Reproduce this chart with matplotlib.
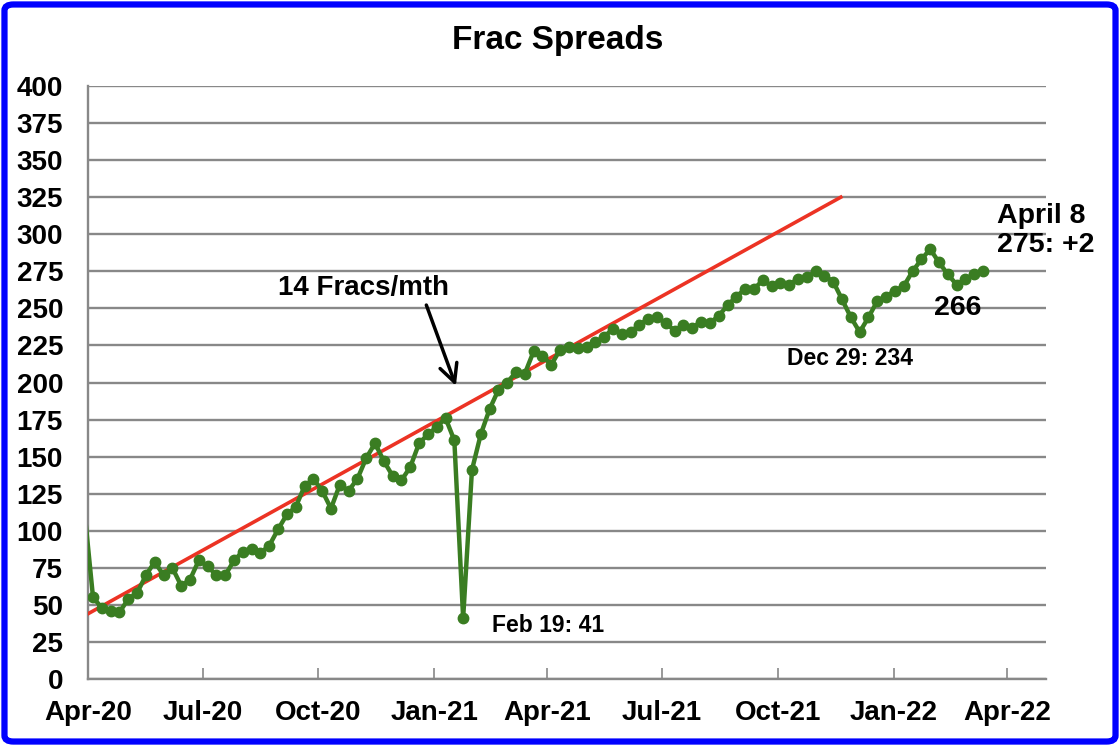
import numpy as np
import pandas as pd
import matplotlib
matplotlib.use('Agg')
import matplotlib.pyplot as plt
import matplotlib.dates as mdates
from matplotlib.patches import FancyBboxPatch

# weekly frac spread counts, as drawn (first point is clipped by the axis)
spreads = [115, 55, 48, 46, 45, 54, 58, 70, 79, 70,
           75, 63, 67, 80, 76, 70, 70, 80, 86, 88,
           85, 90, 101, 111, 116, 130, 135, 127, 115, 131,
           127, 135, 149, 159, 147, 137, 134, 143, 159, 165,
           170, 176, 161, 41, 141, 165, 182, 195, 200, 207,
           206, 221, 218, 212, 222, 224, 223, 224, 227, 231,
           236, 233, 234, 239, 243, 244, 240, 235, 239, 237,
           241, 240, 245, 252, 258, 263, 263, 269, 265, 267,
           266, 270, 271, 275, 272, 268, 256, 244, 234, 244,
           255, 258, 262, 265, 275, 283, 290, 281, 273, 266,
           270, 273, 275]
weeks = pd.date_range('2020-03-29', periods=len(spreads), freq='7D')

trend_dates = pd.to_datetime(['2020-04-01', '2021-11-20'])
trend_vals = [44, 325]

tick_dates = pd.date_range('2020-04-01', '2022-04-01', freq='3MS')
y_ticks = np.arange(0, 401, 25)

FONT = 'Liberation Sans'
plt.rcParams['font.family'] = [FONT, 'DejaVu Sans']
plt.rcParams['font.weight'] = 'bold'

fig = plt.figure(figsize=(11.2, 7.46), dpi=100)
ax = fig.add_axes([88 / 1120, 1 - 679 / 746, (1046 - 88) / 1120, (679 - 86) / 746])

ax.set_xlim(pd.Timestamp('2020-04-01'), pd.Timestamp('2022-05-02'))
ax.set_ylim(0, 400)
ax.set_yticks(y_ticks)
ax.set_xticks(tick_dates)
ax.xaxis.set_major_formatter(mdates.DateFormatter('%b-%y'))

ax.grid(True, axis='y', color='#888888', lw=1.7)
ax.set_axisbelow(True)
for s in ['top', 'right']:
    ax.spines[s].set_visible(False)
for s in ['left', 'bottom']:
    ax.spines[s].set_color('#888888')
    ax.spines[s].set_linewidth(1.7)

ax.tick_params(axis='y', length=0, pad=18, labelsize=20)
ax.tick_params(axis='x', direction='in', length=8, width=1.2, color='#888888',
               pad=15, labelsize=20)
for lab in ax.get_xticklabels() + ax.get_yticklabels():
    lab.set_fontweight('bold')

ax.plot(trend_dates, trend_vals, color='#ec3324', lw=2.6, zorder=3)
ax.plot(weeks, spreads, color='#3a7d22', lw=3.2, marker='o', ms=7.5,
        markevery=list(range(1, len(spreads))), zorder=4)

fig.text(558 / 1120, 1 - 40 / 746, 'Frac Spreads', ha='center', va='center',
         fontsize=24, fontweight='bold')

ax.text(pd.Timestamp('2020-08-30'), 264, '14 Fracs/mth', ha='left', va='center',
        fontsize=20, fontweight='bold')
ax.annotate('', xy=(pd.Timestamp('2021-01-19'), 196), xytext=(pd.Timestamp('2020-12-25'), 254),
            arrowprops=dict(arrowstyle='->', lw=2.5, color='black', mutation_scale=32))
ax.text(pd.Timestamp('2021-02-16'), 36, 'Feb 19: 41', ha='left', va='center',
        fontsize=16.5, fontweight='bold')
ax.text(pd.Timestamp('2021-10-08'), 216, 'Dec 29: 234', ha='left', va='center',
        fontsize=16.5, fontweight='bold')
ax.text(pd.Timestamp('2022-02-02'), 250, '266', ha='left', va='center',
        fontsize=20.5, fontweight='bold')
ax.text(pd.Timestamp('2022-03-24'), 312, 'April 8', ha='left', va='center',
        fontsize=20.5, fontweight='bold', clip_on=False)
ax.text(pd.Timestamp('2022-03-24'), 293, '275: +2', ha='left', va='center',
        fontsize=20.5, fontweight='bold', clip_on=False)

fig.patches.append(FancyBboxPatch((0.004, 0.006), 0.992, 0.988,
                                  boxstyle='round,pad=0,rounding_size=0.008',
                                  transform=fig.transFigure, lw=4.5,
                                  ec='#0000ff', fc='none'))

fig.savefig('out.png', dpi=100)
